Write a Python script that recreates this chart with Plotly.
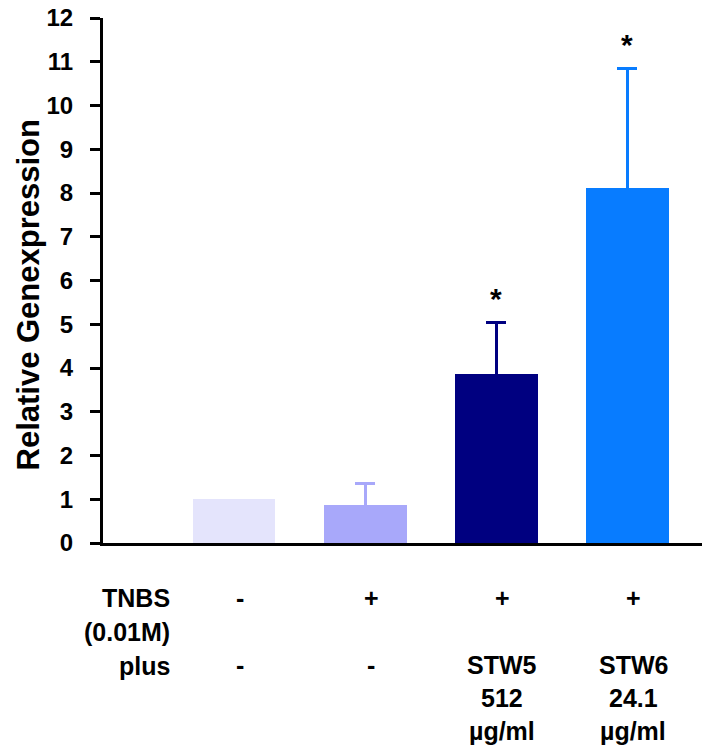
import plotly.graph_objects as go

# ---- data ----
groups = ["Control", "TNBS", "TNBS + STW5", "TNBS + STW6"]
values = [1.0, 0.88, 3.87, 8.12]
errors = [0.0, 0.48, 1.18, 2.72]
colors = ["#e4e4fc", "#a8a8fa", "#000080", "#087cff"]
significant = [False, False, True, True]
tnbs_row = ["-", "+", "+", "+"]
plus_row = ["-", "-", "STW5\n512\nµg/ml", "STW6\n24.1\nµg/ml"]
row_labels = ["TNBS", "(0.01M)", "plus"]
y_ticks = list(range(0, 13))
y_title = "Relative Genexpression"

FONT = "Arial, Liberation Sans, sans-serif"
xpos = list(range(len(groups)))


def bold(size):
    return dict(family=FONT, size=size, color="black", weight="bold")


fig = go.Figure()
for i, g in enumerate(groups):
    fig.add_trace(go.Bar(
        x=[xpos[i]], y=[values[i]], name=g, width=0.63,
        marker=dict(color=colors[i], line=dict(width=0)),
        # lower part runs inside the bar (same colour) so only the upper whisker shows
        error_y=dict(type="data", symmetric=False, array=[errors[i]], arrayminus=[values[i]],
                     color=colors[i], thickness=3, width=10, visible=errors[i] > 0),
        showlegend=False,
    ))

annotations = []
# significance stars
for i, s in enumerate(significant):
    if s:
        annotations.append(dict(x=xpos[i], y=values[i] + errors[i], xref="x", yref="y",
                                text="*", showarrow=False, yshift=24, yanchor="middle",
                                font=bold(30)))
# bottom table
LINE = 33
for i in range(len(groups)):
    annotations.append(dict(x=xpos[i], y=0, xref="x", yref="paper", text=tnbs_row[i],
                            showarrow=False, xshift=6, yshift=-55, yanchor="middle",
                            font=bold(25)))
    for k, line in enumerate(plus_row[i].split("\n")):
        annotations.append(dict(x=xpos[i], y=0, xref="x", yref="paper", text=line,
                                showarrow=False, xshift=6, yshift=-122 - LINE * k,
                                yanchor="middle", font=bold(25)))
for k, lbl in enumerate(row_labels):
    annotations.append(dict(x=-0.474, y=0, xref="x", yref="paper", text=lbl,
                            showarrow=False, xanchor="right", yshift=-55 - 34 * k,
                            yanchor="middle", font=bold(25)))
# y-axis title
annotations.append(dict(x=0, y=0.5, xref="paper", yref="paper", text=y_title,
                        textangle=-90, showarrow=False, xanchor="center", yanchor="middle",
                        xshift=-75, yshift=-14, font=bold(31)))

fig.update_layout(
    width=702, height=738,
    margin=dict(l=95, r=0, t=10, b=203, autoexpand=False),
    plot_bgcolor="white", paper_bgcolor="white",
    bargap=0, annotations=annotations,
    font=dict(family=FONT, color="black"),
)
fig.update_xaxes(range=[-1, 3.63], showticklabels=False, ticks="", showgrid=False,
                 zeroline=False, showline=True, linecolor="black", linewidth=3)
fig.update_yaxes(range=[0, 12], tickvals=y_ticks, ticks="outside", ticklen=10, tickwidth=3,
                 tickcolor="black", showline=True, linecolor="black", linewidth=3,
                 showgrid=False, zeroline=False, ticklabelstandoff=12, automargin=False,
                 ticklabeloverflow="allow", tickfont=bold(24))

fig.write_html("out.html")
